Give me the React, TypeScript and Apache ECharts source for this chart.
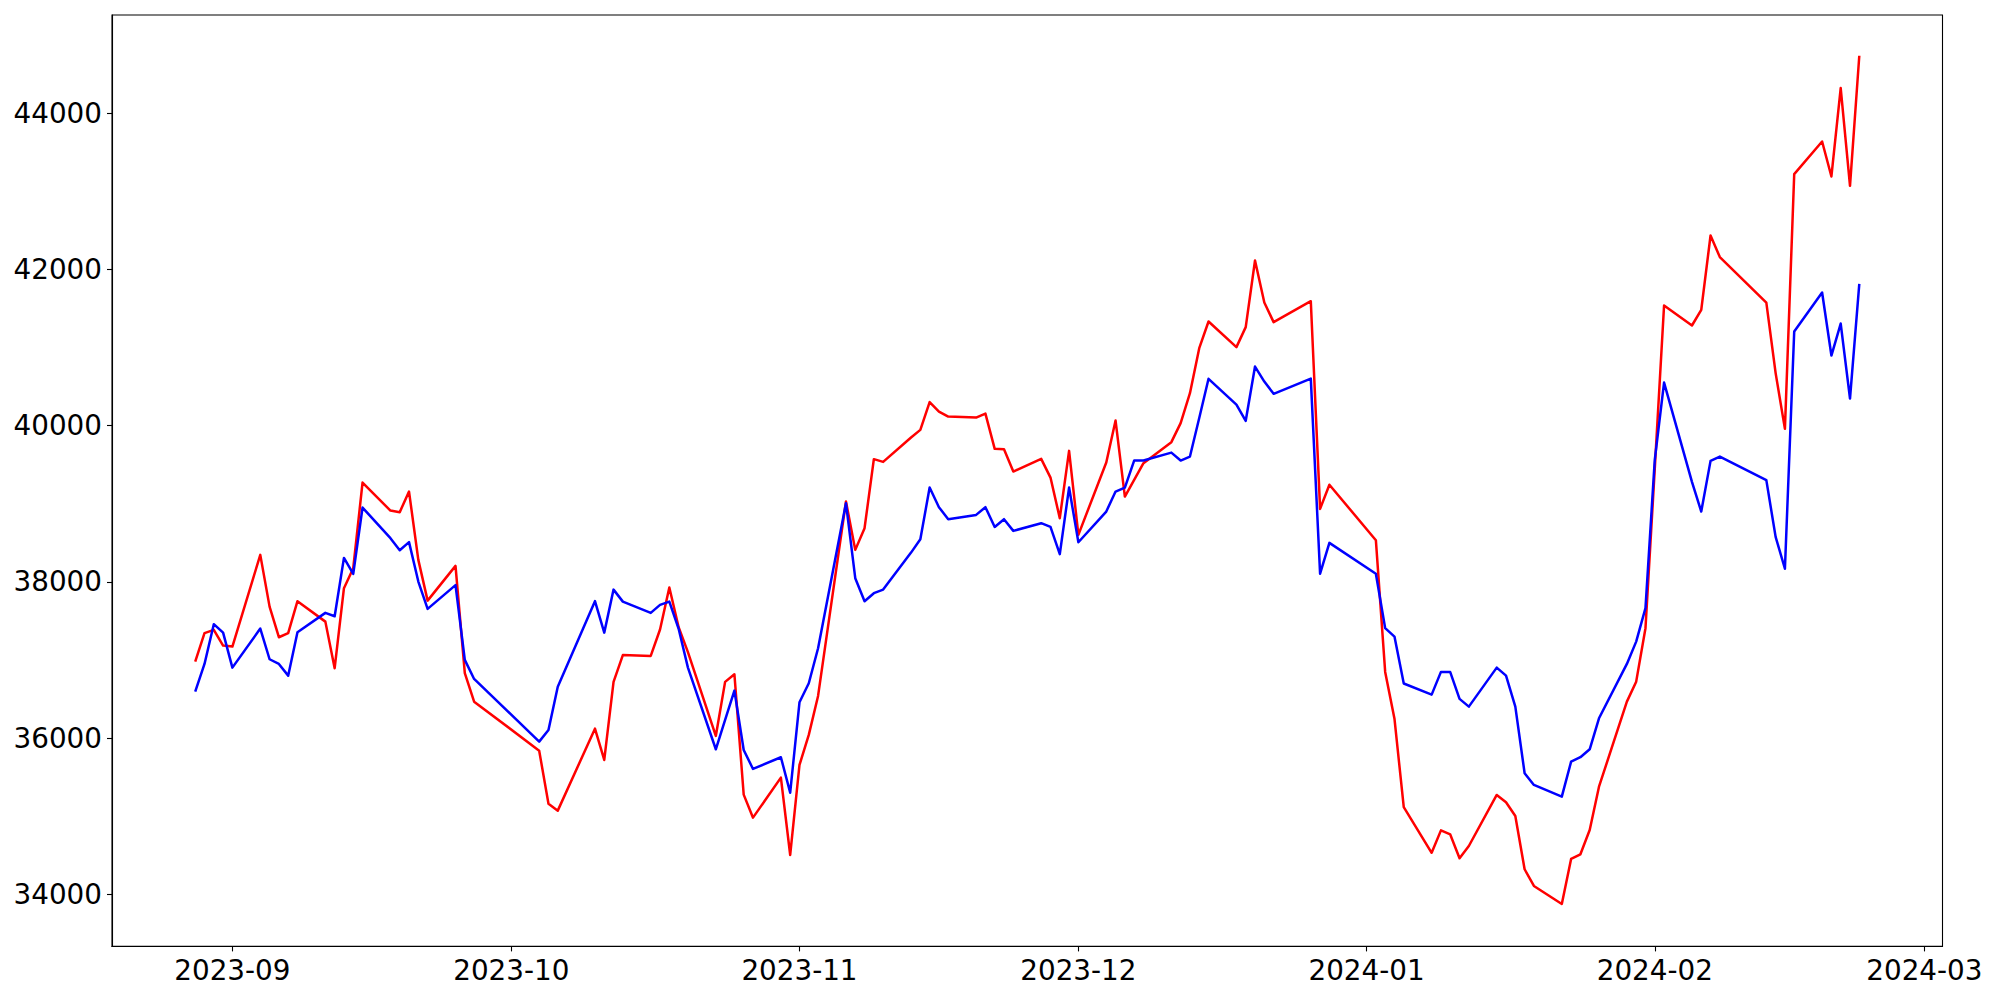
import React, { useEffect, useRef } from 'react';
import * as echarts from 'echarts';

const dates: string[] = [
  '2023-08-28', '2023-08-29', '2023-08-30', '2023-08-31', '2023-09-01',
  '2023-09-04', '2023-09-05', '2023-09-06', '2023-09-07', '2023-09-08',
  '2023-09-11', '2023-09-12', '2023-09-13', '2023-09-14', '2023-09-15',
  '2023-09-18', '2023-09-19', '2023-09-20', '2023-09-21', '2023-09-22',
  '2023-09-25', '2023-09-26', '2023-09-27',
  '2023-10-04', '2023-10-05', '2023-10-06',
  '2023-10-10', '2023-10-11', '2023-10-12', '2023-10-13',
  '2023-10-16', '2023-10-17', '2023-10-18', '2023-10-19', '2023-10-20',
  '2023-10-23', '2023-10-24', '2023-10-25', '2023-10-26', '2023-10-27',
  '2023-10-30', '2023-10-31', '2023-11-01', '2023-11-02', '2023-11-03',
  '2023-11-06', '2023-11-07', '2023-11-08', '2023-11-09', '2023-11-10',
  '2023-11-13', '2023-11-14', '2023-11-15', '2023-11-16', '2023-11-17',
  '2023-11-20', '2023-11-21', '2023-11-22', '2023-11-23', '2023-11-24',
  '2023-11-27', '2023-11-28', '2023-11-29', '2023-11-30', '2023-12-01',
  '2023-12-04', '2023-12-05', '2023-12-06', '2023-12-07', '2023-12-08',
  '2023-12-11', '2023-12-12', '2023-12-13', '2023-12-14', '2023-12-15',
  '2023-12-18', '2023-12-19', '2023-12-20', '2023-12-21', '2023-12-22',
  '2023-12-26', '2023-12-27', '2023-12-28',
  '2024-01-02', '2024-01-03', '2024-01-04', '2024-01-05',
  '2024-01-08', '2024-01-09', '2024-01-10', '2024-01-11', '2024-01-12',
  '2024-01-15', '2024-01-16', '2024-01-17', '2024-01-18', '2024-01-19',
  '2024-01-22', '2024-01-23', '2024-01-24', '2024-01-25', '2024-01-26',
  '2024-01-29', '2024-01-30', '2024-01-31', '2024-02-01', '2024-02-02',
  '2024-02-05', '2024-02-06', '2024-02-07', '2024-02-08',
  '2024-02-13', '2024-02-14', '2024-02-15', '2024-02-16',
  '2024-02-19', '2024-02-20', '2024-02-21', '2024-02-22', '2024-02-23',
];

const redValues: number[] = [
  36979, 37343, 37385, 37184, 37171,
  38346, 37683, 37291, 37343, 37753,
  37491, 36894, 37919, 38175, 39272,
  38913, 38893, 39157, 38282, 37760,
  38205, 36830, 36466,
  35838, 35159, 35070,
  36120, 35719, 36720, 37063,
  37052, 37390, 37927, 37420, 37100,
  36027, 36719, 36817, 35275, 34980,
  35493, 34502, 35655, 36040, 36539,
  39029, 38410, 38688, 39572, 39537,
  39850, 39947, 40302, 40182, 40118,
  40105, 40156, 39704, 39700, 39413,
  39576, 39336, 38816, 39678, 38602,
  39530, 40066, 39093, 39307, 39521,
  39790, 40033, 40417, 40994, 41335,
  41007, 41263, 42116, 41578, 41327,
  41595, 38935, 39244,
  38534, 36847, 36247, 35115,
  34530, 34817, 34765, 34460, 34617,
  35271, 35177, 35002, 34319, 34105,
  33875, 34451, 34511, 34822, 35377,
  36466, 36722, 37407, 39450, 41540,
  41284, 41485, 42437, 42160,
  41578, 40674, 39960, 43223,
  43641, 43193, 44325, 43073, 44739,
];

const blueValues: number[] = [
  36594, 36949, 37458, 37350, 36902,
  37402, 37009, 36949, 36799, 37355,
  37603, 37560, 38307, 38102, 38952,
  38560, 38406, 38509, 38004, 37654,
  37958, 37001, 36757,
  35954, 36104, 36658,
  37753, 37350, 37901, 37747,
  37603, 37705, 37747, 37400, 36902,
  35856, 36232, 36607, 35847, 35604,
  35754, 35300, 36458, 36702, 37150,
  39008, 38047, 37752, 37855, 37901,
  38375, 38545, 39208, 38957, 38803,
  38858, 38957, 38704, 38803, 38653,
  38752, 38704, 38355, 39208, 38508,
  38901, 39157, 39208, 39554, 39554,
  39656, 39554, 39605, 40100, 40601,
  40270, 40063, 40758, 40566, 40409,
  40604, 38105, 38500,
  38105, 37408, 37299, 36698,
  36556, 36847, 36845, 36501, 36402,
  36902, 36799, 36402, 35549, 35399,
  35249, 35697, 35754, 35856, 36253,
  36949, 37235, 37663, 39563, 40553,
  39281, 38901, 39550, 39605,
  39303, 38576, 38168, 41207,
  41706, 40899, 41309, 40348, 41818,
];

const yTicks: number[] = [34000, 36000, 38000, 40000, 42000, 44000];
const xTickMonths: string[] = ['2023-09', '2023-10', '2023-11', '2023-12', '2024-01', '2024-02', '2024-03'];

function ts(s: string): number {
  return new Date(s + 'T00:00:00').getTime();
}

const HOUR = 3600 * 1000;

export default function App() {
  const ref = useRef<HTMLDivElement>(null);

  useEffect(() => {
    if (!ref.current) return;
    const chart = echarts.init(ref.current, null, { renderer: 'svg' });
    const xTicks = xTickMonths.map((m) => ts(m + '-01'));
    const fmtMonth = (v: number) => {
      const d = new Date(v);
      return d.getFullYear() + '-' + String(d.getMonth() + 1).padStart(2, '0');
    };
    const font = 'DejaVu Sans';
    chart.setOption({
      animation: false,
      backgroundColor: '#ffffff',
      grid: {
        left: 112,
        right: 57.5,
        top: 15,
        bottom: 53.6,
        show: true,
        borderColor: '#000000',
        borderWidth: 1.1,
        backgroundColor: 'transparent',
      },
      xAxis: {
        type: 'value',
        scale: true,
        min: ts('2023-08-19') + 1.2 * HOUR,
        max: ts('2024-03-02') + 22.8 * HOUR,
        axisLine: { show: true, onZero: false, lineStyle: { color: '#000000', width: 1.1 } },
        axisTick: { show: true, length: 5, lineStyle: { color: '#000000', width: 1.1 }, customValues: xTicks },
        axisLabel: {
          customValues: xTicks,
          formatter: (v: number) => fmtMonth(v),
          color: '#000000',
          fontSize: 27.8,
          fontFamily: font,
          margin: 10,
        },
        splitLine: { show: false },
      },
      yAxis: {
        type: 'value',
        min: 33331,
        max: 45261,
        axisLine: { show: true, onZero: false, lineStyle: { color: '#000000', width: 1.1 } },
        axisTick: { show: true, length: 5, lineStyle: { color: '#000000', width: 1.1 }, customValues: yTicks },
        axisLabel: {
          customValues: yTicks,
          formatter: (v: number) => String(v),
          color: '#000000',
          fontSize: 27.8,
          fontFamily: font,
          margin: 10,
        },
        splitLine: { show: false },
      },
      series: [
        {
          name: 'red',
          type: 'line',
          data: dates.map((d, i) => [ts(d), redValues[i]]),
          showSymbol: false,
          lineStyle: { color: '#ff0000', width: 2.5, join: 'round' },
          itemStyle: { color: '#ff0000' },
          z: 2,
        },
        {
          name: 'blue',
          type: 'line',
          data: dates.map((d, i) => [ts(d), blueValues[i]]),
          showSymbol: false,
          lineStyle: { color: '#0000ff', width: 2.5, join: 'round' },
          itemStyle: { color: '#0000ff' },
          z: 3,
        },
      ],
    });
    return () => chart.dispose();
  }, []);

  return (
    <div
      ref={ref}
      style={{ position: 'fixed', left: 0, top: 0, width: 2000, height: 1000, background: '#ffffff' }}
    />
  );
}
